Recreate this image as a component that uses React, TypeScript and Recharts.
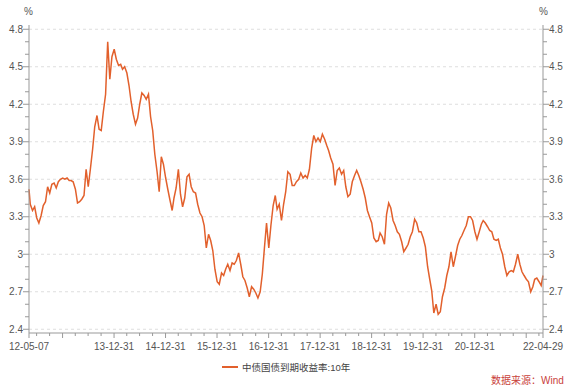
import React from 'react';
import { LineChart, Line, XAxis, YAxis, ReferenceLine } from 'recharts';

// semi-monthly readings of the 10y CGB yield
const halfMonths = [
  '01-01', '01-16', '02-01', '02-16', '03-01', '03-16', '04-01', '04-16',
  '05-01', '05-16', '06-01', '06-16', '07-01', '07-16', '08-01', '08-16',
  '09-01', '09-16', '10-01', '10-16', '11-01', '11-16', '12-01', '12-16',
];
const dates2012 = [
  '2012-05-07', '2012-05-16', '2012-06-01', '2012-06-16', '2012-07-01', '2012-07-16',
  '2012-08-01', '2012-08-16', '2012-09-01', '2012-09-16', '2012-10-01', '2012-10-16',
  '2012-11-01', '2012-11-16', '2012-12-01', '2012-12-16',
];
const dates2022 = [
  '2022-01-01', '2022-01-16', '2022-02-01', '2022-02-16', '2022-03-01',
  '2022-03-16', '2022-04-01', '2022-04-16', '2022-04-29',
];

const yields2012 = [3.52, 3.4, 3.35, 3.38, 3.29, 3.25, 3.31, 3.39, 3.42, 3.54, 3.49, 3.56, 3.57, 3.53, 3.58, 3.6];
const yields2013 = [3.61, 3.6, 3.61, 3.59, 3.59, 3.58, 3.52, 3.41, 3.42, 3.44, 3.47, 3.68, 3.54, 3.68, 3.84, 4.02, 4.11, 4.0, 3.99, 4.14, 4.28, 4.7, 4.4, 4.58];
const yields2014 = [4.64, 4.56, 4.51, 4.52, 4.48, 4.5, 4.45, 4.35, 4.22, 4.12, 4.04, 4.09, 4.2, 4.29, 4.27, 4.24, 4.28, 4.1, 3.99, 3.8, 3.66, 3.5, 3.78, 3.72];
const yields2015 = [3.61, 3.52, 3.43, 3.35, 3.45, 3.53, 3.68, 3.48, 3.38, 3.45, 3.62, 3.64, 3.54, 3.5, 3.49, 3.4, 3.33, 3.3, 3.23, 3.05, 3.16, 3.11, 3.03, 2.88];
const yields2016 = [2.78, 2.76, 2.85, 2.83, 2.88, 2.92, 2.87, 2.93, 2.92, 2.95, 3.01, 2.92, 2.82, 2.79, 2.73, 2.66, 2.74, 2.72, 2.69, 2.65, 2.7, 2.84, 3.05, 3.25];
const yields2017 = [3.05, 3.23, 3.39, 3.47, 3.36, 3.4, 3.27, 3.4, 3.5, 3.66, 3.64, 3.55, 3.55, 3.58, 3.6, 3.65, 3.61, 3.63, 3.61, 3.68, 3.85, 3.95, 3.9, 3.93];
const yields2018 = [3.9, 3.96, 3.92, 3.87, 3.83, 3.77, 3.72, 3.55, 3.67, 3.69, 3.64, 3.67, 3.54, 3.46, 3.48, 3.58, 3.63, 3.67, 3.63, 3.58, 3.52, 3.45, 3.35, 3.3];
const yields2019 = [3.25, 3.13, 3.1, 3.11, 3.17, 3.14, 3.08, 3.32, 3.41, 3.37, 3.27, 3.23, 3.18, 3.16, 3.1, 3.02, 3.05, 3.08, 3.14, 3.18, 3.28, 3.25, 3.18, 3.18];
const yields2020 = [3.13, 3.06, 2.9, 2.8, 2.71, 2.53, 2.6, 2.52, 2.54, 2.66, 2.73, 2.83, 2.9, 3.02, 2.9, 2.98, 3.07, 3.12, 3.15, 3.19, 3.23, 3.3, 3.3, 3.27];
const yields2021 = [3.18, 3.12, 3.18, 3.24, 3.27, 3.25, 3.22, 3.19, 3.18, 3.12, 3.11, 3.12, 3.05, 3.0, 2.9, 2.83, 2.86, 2.87, 2.86, 2.92, 3.0, 2.92, 2.86, 2.83];
const yields2022 = [2.8, 2.78, 2.7, 2.74, 2.8, 2.81, 2.78, 2.75, 2.83];

const fullYears: [number, number[]][] = [
  [2013, yields2013], [2014, yields2014], [2015, yields2015], [2016, yields2016],
  [2017, yields2017], [2018, yields2018], [2019, yields2019], [2020, yields2020],
  [2021, yields2021],
];

const quarterEnds = ['03-31', '06-30', '09-30', '12-31'];
const tickYears = [2012, 2013, 2014, 2015, 2016, 2017, 2018, 2019, 2020, 2021, 2022];
const labelDates = [
  '2012-05-07', '2013-12-31', '2014-12-31', '2015-12-31', '2016-12-31',
  '2017-12-31', '2018-12-31', '2019-12-31', '2020-12-31', '2022-04-29',
];
const startDate = '2012-05-07';
const endDate = '2022-04-29';

const yTicks = [2.4, 2.5, 2.6, 2.7, 2.8, 2.9, 3, 3.1, 3.2, 3.3, 3.4, 3.5, 3.6, 3.7, 3.8, 3.9, 4, 4.1, 4.2, 4.3, 4.4, 4.5, 4.6, 4.7, 4.8];
const yLabels = [2.4, 2.7, 3, 3.3, 3.6, 3.9, 4.2, 4.5, 4.8];

const seriesName = '中债国债到期收益率:10年';

const ts = (d: string) => Date.parse(d);

const data = [
  ...dates2012.map((d, i) => ({ t: ts(d), v: yields2012[i] })),
  ...fullYears.flatMap(([yr, vals]) => halfMonths.map((hm, i) => ({ t: ts(`${yr}-${hm}`), v: vals[i] }))),
  ...dates2022.map((d, i) => ({ t: ts(d), v: yields2022[i] })),
];

const startT = ts(startDate);
const endT = ts(endDate);
const xTicks = [
  startT,
  ...tickYears.flatMap((yr) => quarterEnds.map((q) => ts(`${yr}-${q}`))).filter((t) => t > startT && t < endT),
  endT,
];
const labelSet = new Set(labelDates.map(ts));

const axisColor = '#999';
const textColor = '#555';
const font = "'Liberation Sans', Arial, 'Noto Sans CJK SC', sans-serif";

const isYearEnd = (t: number) => new Date(t).toISOString().slice(5, 10) === '12-31';

const XTick = (props: any) => {
  const { x, y, payload } = props;
  const t = payload.value;
  const major = labelSet.has(t) || isYearEnd(t);
  return (
    <g>
      <line x1={x} y1={y} x2={x} y2={y + (major ? 5 : 3)} stroke={axisColor} />
      {labelSet.has(t) && (
        <text x={x} y={y + 17} textAnchor="middle" fontSize={10} fill={textColor} fontFamily={font}>
          {new Date(t).toISOString().slice(2, 10)}
        </text>
      )}
    </g>
  );
};

const YTick = (props: any, side: 'left' | 'right') => {
  const { x, y, payload } = props;
  const v = payload.value;
  const major = yLabels.includes(v);
  const dir = side === 'left' ? -1 : 1;
  return (
    <g>
      <line x1={x} y1={y} x2={x + dir * (major ? 6 : 4)} y2={y} stroke={axisColor} />
      {major && (
        <text
          x={x + dir * 6}
          y={y}
          dy="0.35em"
          textAnchor={side === 'left' ? 'end' : 'start'}
          fontSize={10}
          fill={textColor}
          fontFamily={font}
        >
          {String(v)}
        </text>
      )}
    </g>
  );
};

export default function App() {
  return (
    <div style={{ position: 'absolute', left: 0, top: 0, width: 580, height: 389, background: '#fff', fontFamily: font }}>
      <LineChart width={580} height={389} data={data} margin={{ top: 25, right: 0, bottom: 0, left: 0 }}>
        <XAxis
          dataKey="t"
          type="number"
          domain={[startT, endT]}
          ticks={xTicks}
          interval={0}
          height={56}
          tickSize={0}
          tickMargin={0}
          tickLine={false}
          stroke={axisColor}
          tick={XTick}
        />
        <YAxis
          yAxisId="left"
          type="number"
          domain={[2.37, 4.834]}
          ticks={yTicks}
          interval={0}
          width={29}
          tickSize={0}
          tickMargin={0}
          tickLine={false}
          stroke={axisColor}
          tick={(p: any) => YTick(p, 'left')}
          allowDataOverflow
        />
        <YAxis
          yAxisId="right"
          orientation="right"
          type="number"
          domain={[2.37, 4.834]}
          ticks={yTicks}
          interval={0}
          width={37}
          tickSize={0}
          tickMargin={0}
          tickLine={false}
          stroke={axisColor}
          tick={(p: any) => YTick(p, 'right')}
          allowDataOverflow
        />
        {yLabels.map((v) => (
          <ReferenceLine key={v} yAxisId="left" y={v} stroke="#dedede" strokeDasharray="3 3" />
        ))}
        <Line
          yAxisId="left"
          dataKey="v"
          name={seriesName}
          stroke="#e2602c"
          strokeWidth={1.5}
          dot={false}
          isAnimationActive={false}
        />
      </LineChart>
      <div style={{ position: 'absolute', left: 24, top: 6, fontSize: 10, color: textColor }}>%</div>
      <div style={{ position: 'absolute', left: 539, top: 6, fontSize: 10, color: textColor }}>%</div>
      <div style={{ position: 'absolute', left: 222, top: 360, display: 'flex', alignItems: 'center', fontSize: 9.5, color: '#444', whiteSpace: 'nowrap' }}>
        <span style={{ display: 'inline-block', width: 16, height: 2, background: '#e2602c', marginRight: 4 }} />
        <span>{seriesName}</span>
      </div>
      <div style={{ position: 'absolute', left: 491, top: 372, fontSize: 10, color: '#c9413b', whiteSpace: 'nowrap' }}>
        数据来源：Wind
      </div>
    </div>
  );
}
